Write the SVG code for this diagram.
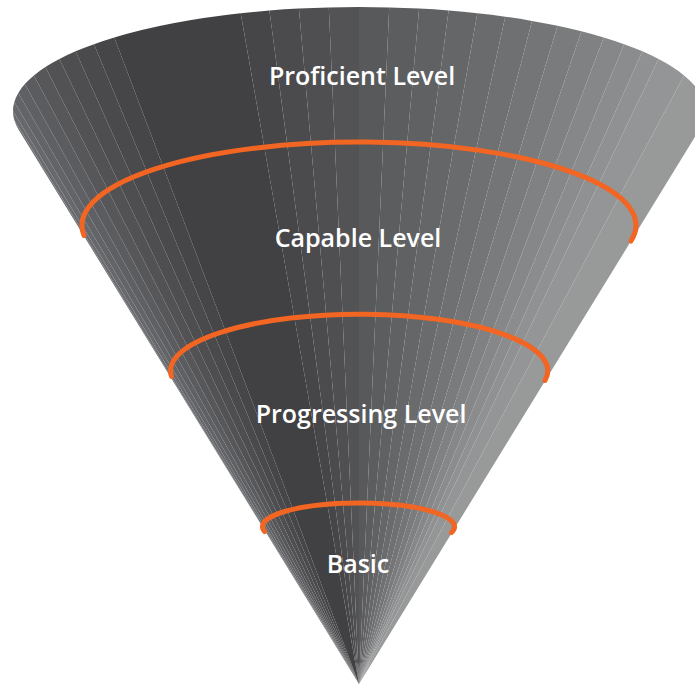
<svg xmlns="http://www.w3.org/2000/svg" width="695" height="685" viewBox="0 0 695 685">
  <style>
    .lbl { fill: #ffffff; font-family: "Open Sans", "Liberation Sans", sans-serif; font-weight: 600; font-size: 25px; text-anchor: middle; }
    .divider { fill: none; stroke: #f26522; stroke-width: 5; stroke-linecap: round; }
  </style>

  <!-- Cone body: fan of slices from the apex (359,684) to the rim ellipse
       centre (359,111), rx 346, ry 104 -->
  <g id="cone">
    <path fill="#6f7073" d="M359 684 L18.8 130 A346 104 0 0 1 14.3 120.1 Z"/>
    <path fill="#6b6c6f" d="M359 684 L14.3 120.1 A346 104 0 0 1 13 111 Z"/>
    <path fill="#67686b" d="M359 684 L13 111 A346 104 0 0 1 14.3 101.9 Z"/>
    <path fill="#636467" d="M359 684 L14.3 101.9 A346 104 0 0 1 18.3 92.9 Z"/>
    <path fill="#5f6063" d="M359 684 L18.3 92.9 A346 104 0 0 1 24.8 84.1 Z"/>
    <path fill="#5b5c5f" d="M359 684 L24.8 84.1 A346 104 0 0 1 33.9 75.4 Z"/>
    <path fill="#57575a" d="M359 684 L33.9 75.4 A346 104 0 0 1 45.4 67 Z"/>
    <path fill="#525255" d="M359 684 L45.4 67 A346 104 0 0 1 59.4 59 Z"/>
    <path fill="#4e4e50" d="M359 684 L59.4 59 A346 104 0 0 1 75.6 51.3 Z"/>
    <path fill="#4a4a4c" d="M359 684 L75.6 51.3 A346 104 0 0 1 94 44.2 Z"/>
    <path fill="#464547" d="M359 684 L94 44.2 A346 104 0 0 1 114.3 37.5 Z"/>
    <path fill="#414042" d="M359 684 L114.3 37.5 A346 104 0 0 1 240.7 13.3 Z"/>
    <path fill="#464547" d="M359 684 L240.7 13.3 A346 104 0 0 1 269.4 10.5 Z"/>
    <path fill="#4b4a4c" d="M359 684 L269.4 10.5 A346 104 0 0 1 298.9 8.6 Z"/>
    <path fill="#4f4f51" d="M359 684 L298.9 8.6 A346 104 0 0 1 328.8 7.4 Z"/>
    <path fill="#535355" d="M359 684 L328.8 7.4 A346 104 0 0 1 359 7 Z"/>
    <path fill="#58595b" d="M359 684 L359 7 A346 104 0 0 1 389.2 7.4 Z"/>
    <path fill="#5c5d5f" d="M359 684 L389.2 7.4 A346 104 0 0 1 419.1 8.6 Z"/>
    <path fill="#606163" d="M359 684 L419.1 8.6 A346 104 0 0 1 448.6 10.5 Z"/>
    <path fill="#656668" d="M359 684 L448.6 10.5 A346 104 0 0 1 477.3 13.3 Z"/>
    <path fill="#6a6b6d" d="M359 684 L477.3 13.3 A346 104 0 0 1 505.2 16.7 Z"/>
    <path fill="#6f7072" d="M359 684 L505.2 16.7 A346 104 0 0 1 532 20.9 Z"/>
    <path fill="#747577" d="M359 684 L532 20.9 A346 104 0 0 1 557.5 25.8 Z"/>
    <path fill="#7a7b7d" d="M359 684 L557.5 25.8 A346 104 0 0 1 581.4 31.3 Z"/>
    <path fill="#808183" d="M359 684 L581.4 31.3 A346 104 0 0 1 603.7 37.5 Z"/>
    <path fill="#868789" d="M359 684 L603.7 37.5 A346 104 0 0 1 624.1 44.2 Z"/>
    <path fill="#8b8c8e" d="M359 684 L624.1 44.2 A346 104 0 0 1 642.4 51.3 Z"/>
    <path fill="#909192" d="M359 684 L642.4 51.3 A346 104 0 0 1 658.6 59 Z"/>
    <path fill="#949596" d="M359 684 L658.6 59 A346 104 0 0 1 684.1 75.4 Z"/>
    <path fill="#989999" d="M359 684 L684.1 75.4 A346 104 0 0 1 699.2 130 Z"/>
  </g>

  <!-- Orange level dividers (rear halves of cone cross-sections) -->
  <g id="dividers">
    <path class="divider" d="M84 235.5 A277 83.3 0 1 1 631 241"/>
    <path class="divider" d="M171.5 376.5 A188.6 56.7 0 1 1 545 380.5"/>
    <path class="divider" d="M264.5 531.5 A96 23.7 0 1 1 451.5 532.5"/>
  </g>

  <g id="level-proficient">
    <text class="lbl" x="362" y="85">Proficient Level</text>
  </g>
  <g id="level-capable">
    <text class="lbl" x="358" y="247">Capable Level</text>
  </g>
  <g id="level-progressing">
    <text class="lbl" x="361" y="423">Progressing Level</text>
  </g>
  <g id="level-basic">
    <text class="lbl" x="358" y="573">Basic</text>
  </g>
</svg>
